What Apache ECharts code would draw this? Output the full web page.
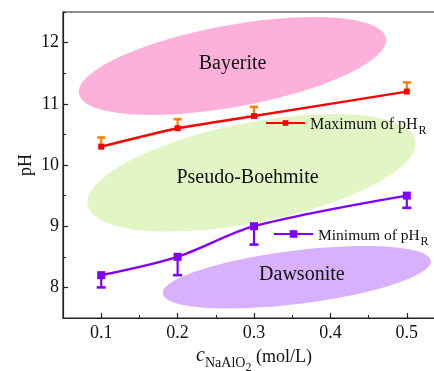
<!DOCTYPE html>
<html>
<head>
<meta charset="utf-8">
<script src="https://cdn.jsdelivr.net/npm/echarts@6/dist/echarts.min.js"></script>
<style>
  html, body { margin: 0; padding: 0; background: #ffffff; }
  #chart { width: 434px; height: 371px; }
</style>
</head>
<body>
<div id="chart"></div>
<script>
// NaAlO2 concentration (mol/L)
const concentrations = [0.1, 0.2, 0.3, 0.5];
// upper bound of the reaction pH, with its (upward) error
const phMax = [10.3, 10.6, 10.8, 11.2];
const phMaxErr = [0.15, 0.15, 0.15, 0.15];
// lower bound of the reaction pH, with its (downward) error
const phMin = [8.2, 8.5, 9.0, 9.5];
const phMinErr = [0.2, 0.3, 0.3, 0.2];

// axis ticks
const xTicks = [0.1, 0.2, 0.3, 0.4, 0.5];
const yTicks = [8, 9, 10, 11, 12];

// phase regions: name and centre (concentration, pH)
const phaseNames = ['Bayerite', 'Pseudo-Boehmite', 'Dawsonite'];
const phaseX = [0.2719, 0.2967, 0.3561];
const phaseY = [11.618, 9.873, 8.167];

// drawing style of each phase region (pixel radii, tilt in degrees, label nudge)
const phaseStyle = [
  { rx: 156, ry: 41, tilt: 10.3, fill: '#fdb1da', dx: 0, dy: -2 },
  { rx: 167, ry: 50, tilt: 11.2, fill: '#e2f5c4', dx: -4, dy: 5 },
  { rx: 135, ry: 26.7, tilt: 7, fill: '#d7b1fb', dx: 5, dy: -2 }
];

const SERIF = '"Liberation Serif", "DejaVu Serif", serif';
const AXIS_COLOR = '#222';
const RED = '#ff0000';
const ORANGE = '#ff8000';
const PURPLE = '#8000ff';

const chart = echarts.init(document.getElementById('chart'), null, { renderer: 'canvas' });

// the frame runs a little past the right edge of the page
const gridRect = { left: 63, top: 12, width: 382, height: 306, containLabel: false, outerBoundsMode: 'none' };

const maxPoints = concentrations.map((c, i) => [c, phMax[i]]);
const minPoints = concentrations.map((c, i) => [c, phMin[i]]);
const maxBars = concentrations.map((c, i) => [c, phMax[i], phMax[i] + phMaxErr[i]]);
const minBars = concentrations.map((c, i) => [c, phMin[i], phMin[i] - phMinErr[i]]);
const phaseData = phaseNames.map((n, i) => [phaseX[i], phaseY[i], i]);

function errorBar(color, capHalf) {
  return function (params, api) {
    const from = api.coord([api.value(0), api.value(1)]);
    const to = api.coord([api.value(0), api.value(2)]);
    const style = { stroke: color, lineWidth: 2.2 };
    return {
      type: 'group',
      children: [
        { type: 'line', shape: { x1: from[0], y1: from[1], x2: to[0], y2: to[1] }, style },
        { type: 'line', shape: { x1: to[0] - capHalf, y1: to[1], x2: to[0] + capHalf, y2: to[1] }, style: { stroke: color, lineWidth: 2.6 } }
      ]
    };
  };
}

const valueAxisBase = {
  type: 'value',
  axisLine: { show: true, lineStyle: { color: AXIS_COLOR, width: 1.2 } },
  splitLine: { show: false }
};

function legendRich(mainSize) {
  return {
    m: { fontFamily: SERIF, fontSize: mainSize, color: '#111', verticalAlign: 'bottom', lineHeight: 20 },
    s: { fontFamily: SERIF, fontSize: 12, color: '#111', verticalAlign: 'bottom', lineHeight: 20, padding: [0, 0, -4, 1] }
  };
}

const option = {
  animation: false,
  backgroundColor: '#ffffff',
  grid: [
    Object.assign({ show: true, borderColor: AXIS_COLOR, borderWidth: 1.2, backgroundColor: 'transparent' }, gridRect),
    Object.assign({ show: false }, gridRect)
  ],
  xAxis: [
    // minor ticks every 0.05
    Object.assign({}, valueAxisBase, {
      gridIndex: 0, min: 0.05, max: 0.55, interval: 0.05,
      axisTick: { show: true, inside: true, length: 3, lineStyle: { color: AXIS_COLOR, width: 1 } },
      axisLabel: { show: false },
      name: '{i|c}{s|NaAlO}{ss|2}{n| (mol/L)}',
      nameLocation: 'middle',
      nameGap: 24,
      nameTextStyle: {
        fontFamily: SERIF, color: '#111',
        rich: {
          i: { fontFamily: SERIF, fontStyle: 'italic', fontSize: 20, color: '#111', verticalAlign: 'bottom', lineHeight: 24 },
          s: { fontFamily: SERIF, fontSize: 14, color: '#111', verticalAlign: 'bottom', lineHeight: 24, padding: [0, 0, -4, 0] },
          ss: { fontFamily: SERIF, fontSize: 12, color: '#111', verticalAlign: 'bottom', lineHeight: 24, padding: [0, 0, -8, 0] },
          n: { fontFamily: SERIF, fontSize: 18, color: '#111', verticalAlign: 'bottom', lineHeight: 24 }
        }
      }
    }),
    // major ticks and labels
    Object.assign({}, valueAxisBase, {
      gridIndex: 1, min: 0.05, max: 0.55,
      axisLine: { show: false },
      axisTick: { show: true, inside: true, length: 5, customValues: xTicks, lineStyle: { color: AXIS_COLOR, width: 1.2 } },
      axisLabel: { show: true, customValues: xTicks, margin: 6, fontFamily: SERIF, fontSize: 18, color: '#111',
        formatter: v => v.toFixed(1) }
    })
  ],
  yAxis: [
    Object.assign({}, valueAxisBase, {
      gridIndex: 0, min: 7.5, max: 12.5, interval: 0.5,
      axisTick: { show: true, inside: true, length: 3, lineStyle: { color: AXIS_COLOR, width: 1 } },
      axisLabel: { show: false },
      name: 'pH',
      nameLocation: 'middle',
      nameGap: 28,
      nameRotate: 90,
      nameTextStyle: { fontFamily: SERIF, fontSize: 18, color: '#111' }
    }),
    Object.assign({}, valueAxisBase, {
      gridIndex: 1, min: 7.5, max: 12.5,
      axisLine: { show: false },
      axisTick: { show: true, inside: true, length: 5, customValues: yTicks, lineStyle: { color: AXIS_COLOR, width: 1.2 } },
      axisLabel: { show: true, customValues: yTicks, margin: 4, fontFamily: SERIF, fontSize: 18, color: '#111' }
    })
  ],
  legend: [
    {
      data: ['Maximum of pHR'],
      left: 265, top: 117, padding: 0,
      itemWidth: 39, itemHeight: 7,
      selectedMode: false,
      formatter: () => '{m|Maximum of pH}{s|R}',
      textStyle: { rich: legendRich(16) }
    },
    {
      data: ['Minimum of pHR'],
      left: 273, top: 228, padding: 0,
      itemWidth: 39, itemHeight: 9.5,
      selectedMode: false,
      formatter: () => '{m|Minimum of pH}{s|R}',
      textStyle: { rich: legendRich(15.5) }
    }
  ],
  series: [
    {
      type: 'custom',
      name: 'phases',
      xAxisIndex: 0, yAxisIndex: 0,
      silent: true,
      z: 1,
      data: phaseData,
      renderItem: function (params, api) {
        const i = api.value(2);
        const st = phaseStyle[i];
        const p = api.coord([api.value(0), api.value(1)]);
        return {
          type: 'group',
          children: [
            {
              type: 'ellipse',
              x: p[0], y: p[1],
              rotation: st.tilt * Math.PI / 180,
              shape: { cx: 0, cy: 0, rx: st.rx, ry: st.ry },
              style: { fill: st.fill }
            },
            {
              type: 'text',
              x: p[0] + st.dx, y: p[1] + st.dy,
              style: { text: phaseNames[i], fill: '#111', font: '20px ' + SERIF, align: 'center', verticalAlign: 'middle' }
            }
          ]
        };
      }
    },
    {
      type: 'custom',
      name: 'maxErr',
      xAxisIndex: 0, yAxisIndex: 0,
      z: 3,
      data: maxBars,
      renderItem: errorBar(ORANGE, 4)
    },
    {
      type: 'custom',
      name: 'minErr',
      xAxisIndex: 0, yAxisIndex: 0,
      z: 3,
      data: minBars,
      renderItem: errorBar(PURPLE, 4.5)
    },
    {
      type: 'line',
      name: 'Maximum of pHR',
      xAxisIndex: 0, yAxisIndex: 0,
      z: 4,
      data: maxPoints,
      smooth: 0.2,
      symbol: 'rect',
      symbolSize: 6,
      lineStyle: { color: RED, width: 2.4 },
      itemStyle: { color: RED }
    },
    {
      type: 'line',
      name: 'Minimum of pHR',
      xAxisIndex: 0, yAxisIndex: 0,
      z: 4,
      data: minPoints,
      smooth: 0.3,
      symbol: 'rect',
      symbolSize: 8,
      lineStyle: { color: PURPLE, width: 2.4 },
      itemStyle: { color: PURPLE }
    }
  ]
};

chart.setOption(option);
</script>
</body>
</html>
